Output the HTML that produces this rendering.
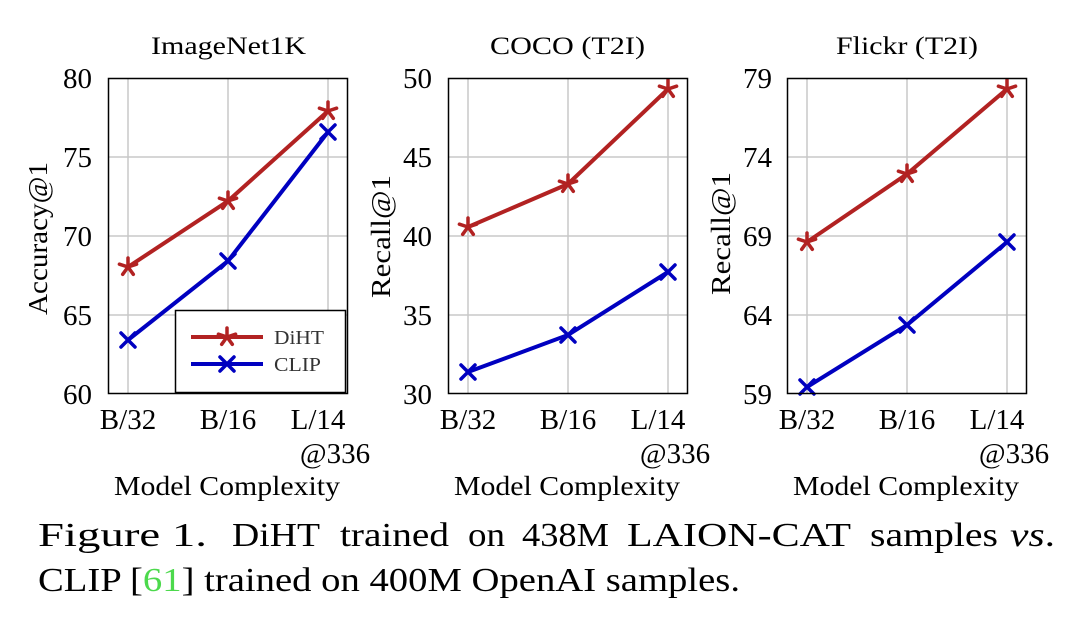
<!DOCTYPE html>
<html><head><meta charset="utf-8"><style>
html,body{margin:0;padding:0;background:#fff;}
svg{display:block;font-family:"Liberation Serif",serif;}
</style></head><body>
<svg width="1080" height="642" viewBox="0 0 1080 642" xmlns="http://www.w3.org/2000/svg">
<defs>
<g id="star"><g stroke="#b22222" stroke-width="3.5" stroke-linecap="round">
<line x1="0" y1="0" x2="0" y2="-9"/><line x1="0" y1="0" x2="8.6" y2="-2.8"/><line x1="0" y1="0" x2="5.3" y2="7.3"/><line x1="0" y1="0" x2="-5.3" y2="7.3"/><line x1="0" y1="0" x2="-8.6" y2="-2.8"/></g></g>
<g id="xm"><g stroke="#0000c0" stroke-width="3.5" stroke-linecap="round">
<line x1="-7" y1="-7" x2="7" y2="7"/><line x1="-7" y1="7" x2="7" y2="-7"/></g></g>
</defs>

<!-- Panel 1 -->
<g stroke="#c8c8c8" stroke-width="1.5">
<line x1="128" y1="78" x2="128" y2="394"/><line x1="228" y1="78" x2="228" y2="394"/><line x1="328" y1="78" x2="328" y2="394"/>
<line x1="108" y1="157" x2="348" y2="157"/><line x1="108" y1="236" x2="348" y2="236"/><line x1="108" y1="315" x2="348" y2="315"/>
</g>
<polyline points="128,267 228,201 328,111" fill="none" stroke="#b22222" stroke-width="4"/>
<polyline points="128,340 228,261 328,132" fill="none" stroke="#0000c0" stroke-width="4"/>
<use href="#star" x="128" y="267"/><use href="#star" x="228" y="201"/><use href="#star" x="328" y="111"/>
<use href="#xm" x="128" y="340"/><use href="#xm" x="228" y="261"/><use href="#xm" x="328" y="132"/>
<rect x="175.5" y="310.5" width="170" height="82" fill="#fff" stroke="#000" stroke-width="1.5"/>
<line x1="191" y1="337" x2="263" y2="337" stroke="#b22222" stroke-width="4"/><use href="#star" x="227" y="337"/>
<line x1="191" y1="364" x2="263" y2="364" stroke="#0000c0" stroke-width="4"/><use href="#xm" x="227" y="364"/>
<text x="274" y="344" font-size="20" fill="#333" textLength="50" lengthAdjust="spacingAndGlyphs">DiHT</text>
<text x="274" y="371" font-size="20" fill="#333" textLength="47" lengthAdjust="spacingAndGlyphs">CLIP</text>
<rect x="108.5" y="78.5" width="239" height="315" fill="none" stroke="#000" stroke-width="1.5"/>
<g font-size="29" text-anchor="end">
<text x="92" y="88">80</text><text x="92" y="167">75</text><text x="92" y="246">70</text><text x="92" y="325">65</text><text x="92" y="404">60</text>
</g>
<text x="151" y="54" font-size="25" textLength="155" lengthAdjust="spacingAndGlyphs">ImageNet1K</text>
<text transform="translate(47,315) rotate(-90)" font-size="27" textLength="153" lengthAdjust="spacingAndGlyphs">Accuracy@1</text>

<!-- Panel 2 -->
<g stroke="#c8c8c8" stroke-width="1.5">
<line x1="468" y1="78" x2="468" y2="394"/><line x1="568" y1="78" x2="568" y2="394"/><line x1="668" y1="78" x2="668" y2="394"/>
<line x1="448" y1="157" x2="688" y2="157"/><line x1="448" y1="236" x2="688" y2="236"/><line x1="448" y1="315" x2="688" y2="315"/>
</g>
<polyline points="468,227 568,184 668,89" fill="none" stroke="#b22222" stroke-width="4"/>
<polyline points="468,372 568,335 668,272" fill="none" stroke="#0000c0" stroke-width="4"/>
<use href="#star" x="468" y="227"/><use href="#star" x="568" y="184"/><use href="#star" x="668" y="89"/>
<use href="#xm" x="468" y="372"/><use href="#xm" x="568" y="335"/><use href="#xm" x="668" y="272"/>
<rect x="448.5" y="78.5" width="239" height="315" fill="none" stroke="#000" stroke-width="1.5"/>
<g font-size="29" text-anchor="end">
<text x="432" y="88">50</text><text x="432" y="167">45</text><text x="432" y="246">40</text><text x="432" y="325">35</text><text x="432" y="404">30</text>
</g>
<text x="490" y="54" font-size="25" textLength="155" lengthAdjust="spacingAndGlyphs">COCO (T2I)</text>
<text transform="translate(390,298) rotate(-90)" font-size="27" textLength="123" lengthAdjust="spacingAndGlyphs">Recall@1</text>

<!-- Panel 3 -->
<g stroke="#c8c8c8" stroke-width="1.5">
<line x1="807" y1="78" x2="807" y2="394"/><line x1="907" y1="78" x2="907" y2="394"/><line x1="1007" y1="78" x2="1007" y2="394"/>
<line x1="787" y1="157" x2="1027" y2="157"/><line x1="787" y1="236" x2="1027" y2="236"/><line x1="787" y1="315" x2="1027" y2="315"/>
</g>
<polyline points="807,242 907,174 1007,89" fill="none" stroke="#b22222" stroke-width="4"/>
<polyline points="807,387 907,325 1007,242" fill="none" stroke="#0000c0" stroke-width="4"/>
<use href="#star" x="807" y="242"/><use href="#star" x="907" y="174"/><use href="#star" x="1007" y="89"/>
<use href="#xm" x="807" y="387"/><use href="#xm" x="907" y="325"/><use href="#xm" x="1007" y="242"/>
<rect x="787.5" y="78.5" width="239" height="315" fill="none" stroke="#000" stroke-width="1.5"/>
<g font-size="29" text-anchor="end">
<text x="772" y="88">79</text><text x="772" y="167">74</text><text x="772" y="246">69</text><text x="772" y="325">64</text><text x="772" y="404">59</text>
</g>
<text x="836" y="54" font-size="25" textLength="142" lengthAdjust="spacingAndGlyphs">Flickr (T2I)</text>
<text transform="translate(730,295) rotate(-90)" font-size="27" textLength="123" lengthAdjust="spacingAndGlyphs">Recall@1</text>

<!-- X tick labels -->
<g font-size="29" text-anchor="middle">
<text x="128" y="429">B/32</text><text x="228" y="429">B/16</text><text x="318" y="429">L/14</text><text x="335" y="463">@336</text>
<text x="468" y="429">B/32</text><text x="568" y="429">B/16</text><text x="658" y="429">L/14</text><text x="675" y="463">@336</text>
<text x="807" y="429">B/32</text><text x="907" y="429">B/16</text><text x="997" y="429">L/14</text><text x="1014" y="463">@336</text>
</g>
<g font-size="27">
<text x="114" y="495" textLength="226" lengthAdjust="spacingAndGlyphs">Model Complexity</text>
<text x="454" y="495" textLength="226" lengthAdjust="spacingAndGlyphs">Model Complexity</text>
<text x="793" y="495" textLength="226" lengthAdjust="spacingAndGlyphs">Model Complexity</text>
</g>

<!-- Caption -->
<g font-size="34">
<text x="38" y="546" textLength="169" lengthAdjust="spacingAndGlyphs">Figure 1.</text>
<text x="232" y="546" textLength="88" lengthAdjust="spacingAndGlyphs">DiHT</text>
<text x="340" y="546" textLength="109" lengthAdjust="spacingAndGlyphs">trained</text>
<text x="468" y="546" textLength="37" lengthAdjust="spacingAndGlyphs">on</text>
<text x="522" y="546" textLength="87" lengthAdjust="spacingAndGlyphs">438M</text>
<text x="627" y="546" textLength="224" lengthAdjust="spacingAndGlyphs">LAION-CAT</text>
<text x="870" y="546" textLength="128" lengthAdjust="spacingAndGlyphs">samples</text>
<text x="1010" y="546" textLength="45" lengthAdjust="spacingAndGlyphs"><tspan font-style="italic">vs</tspan>.</text>
</g>
<text x="38" y="591" font-size="34" textLength="702" lengthAdjust="spacingAndGlyphs">CLIP [<tspan fill="#4cd94c">61</tspan>] trained on 400M OpenAI samples.</text>
</svg>
</body></html>
